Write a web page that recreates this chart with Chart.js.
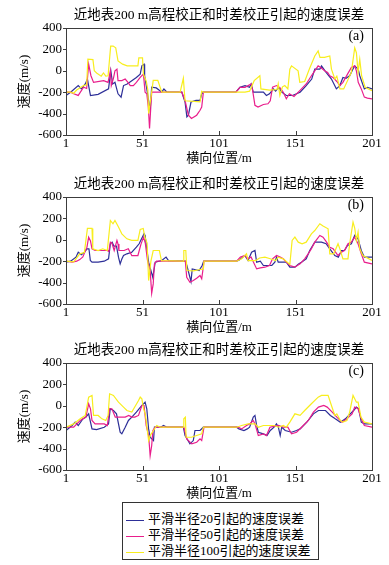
<!DOCTYPE html>
<html>
<head>
<meta charset="utf-8">
<script src="https://cdn.jsdelivr.net/npm/chart.js@4.4.1/dist/chart.umd.min.js"></script>
<style>
html, body { margin: 0; padding: 0; background: #fff; }
#wrap { position: relative; width: 389px; height: 565px; overflow: hidden; background: #fff; }
#wrap canvas { position: absolute; left: 0; }
#legend { position: absolute; left: 122px; top: 502px; width: 195px; height: 56px; border: 1px solid #333;
          font: 13px "Liberation Serif", "Noto Sans CJK SC", serif; color: #000; background: #fff; }
#legend .row { position: absolute; left: 3px; height: 16px; line-height: 16px; white-space: nowrap; }
#legend .swatch { display: inline-block; width: 18px; height: 0; border-top: 1.5px solid; vertical-align: middle; margin-right: 4px; }
</style>
</head>
<body>
<div id="wrap">
  <canvas id="panelA" width="389" height="168" style="top:0px"></canvas>
  <canvas id="panelB" width="389" height="168" style="top:169px"></canvas>
  <canvas id="panelC" width="389" height="168" style="top:335px"></canvas>
  <div id="legend"></div>
</div>
<script>
(function () {

// -------------------------------------------------------------------------------------------------------
// data: [lateral position, velocity error]

var xTicks = [1, 51, 101, 151, 201];
var yTicks = [-600, -400, -200, 0, 200, 400];
var panelTags = ['(a)', '(b)', '(c)'];
var titleText = '近地表200 m高程校正和时差校正引起的速度误差';
var xTitle = '横向位置/m';
var yTitle = '速度(m/s)';
var seriesNames = ['平滑半径20引起的速度误差', '平滑半径50引起的速度误差', '平滑半径100引起的速度误差'];
var seriesColors = ['#2d2f98', '#e91e8c', '#f8ee1e'];

var a_r20 = [[1,-231],[4,-200],[9,-138],[11,-169],[13.6,-123],[15,-77],[17,-231],[22,-220],[28.8,-169],[30.3,0],[31.5,-123],
  [33,-108],[35,-215],[37,-246],[38.6,-138],[41,-123],[44,-92],[47,-62],[49.5,-31],[50.6,46],[52,62],[52.4,-46],[53.8,-169],
  [56,-369],[57,-154],[60,-160],[63.6,-200],[65,-170],[67,-200],[76.7,-200],[78.8,-292],[80,-430],[81,-415],[82.7,-292],
  [86,-277],[88.6,-277],[89.7,-215],[90.8,-200],[112,-200],[114.7,-154],[118,-138],[121,-154],[122,-123],[123.4,-200],
  [130,-200],[132,-231],[134,-215],[136.6,-169],[138,-190],[140,-154],[142,-200],[145,-231],[149,-231],[154,-200],[158,-138],
  [161.6,-77],[163.6,15],[166.9,15],[168,46],[171,-15],[174.5,-77],[177.7,-169],[180,-138],[182,-62],[184,-70],[186.4,-46],
  [188.5,15],[189.7,46],[192,15],[193,-46],[196,-169],[198,-154],[201,-169]];
var a_r50 = [[1,-200],[4,-200],[6,-215],[9,-230],[12.5,-154],[14.5,-165],[15.8,62],[17.3,-46],[19,-108],[25.6,-92],[28.5,-108],
  [30,0],[30.6,-138],[32,-70],[33,0],[34.3,15],[35,-92],[37.5,-92],[39.7,-77],[41.5,-108],[43,-138],[45,-138],[47,-108],
  [49.5,-62],[51.6,-31],[52.7,-200],[53.8,-215],[54.8,-338],[55.6,-538],[56.3,-369],[57,-200],[76.7,-200],[78.8,-277],
  [81,-415],[83,-446],[86.4,-415],[88.6,-369],[89.7,-338],[90.8,-200],[112,-200],[114.7,-154],[118,-154],[122,-123],
  [123,-185],[124.5,-323],[126.5,-338],[130,-315],[133,-308],[134.5,-280],[136,-154],[138.6,-138],[141,-160],[143,-200],
  [145,-262],[147,-215],[150,-240],[153.8,-185],[158,-123],[161.4,-46],[163.6,0],[165.8,46],[167.5,31],[170,0],[172,-15],
  [173.4,-46],[175.5,-62],[178,-100],[180,-138],[182,-108],[185,-31],[187.5,31],[189.7,46],[190.8,0],[192,-108],[194,-169],
  [196,-246],[198,-255],[201,-262]];
var a_r100 = [[1,-200],[4,-200],[6,-210],[8,-180],[12.5,-138],[14.5,-130],[15.3,108],[18.6,105],[19.5,0],[21,-20],[24,-50],
  [25.5,-20],[27,-50],[28.5,-46],[30.2,231],[31.8,231],[33.5,215],[35,92],[38,62],[41,46],[48,46],[48.6,120],[51,120],
  [51.6,-30],[53.5,-100],[54.5,-180],[55,-400],[56,-300],[57,-200],[58,-90],[61,-90],[63.6,-200],[75.6,-200],[77.7,-70],
  [78.8,-280],[88.6,-290],[89.7,-190],[90.8,-200],[118,-200],[121,-190],[124,-92],[127.7,-46],[128.4,-169],[134,-180],
  [139,-175],[139.7,-123],[140.8,-230],[142.5,-150],[144,-138],[146,-169],[147.3,15],[148.4,46],[152.7,0],[153.8,-108],
  [157,-100],[160,15],[163.6,138],[165.8,185],[167,126],[170,126],[173.4,138],[174.5,15],[176.7,-77],[178,-50],[180,-169],
  [182.5,-169],[187.5,-15],[189.7,215],[190.8,169],[191.9,-15],[193,108],[194.2,-46],[196.5,-154],[201,-185]];

var b_r20 = [[1,-209],[4,-200],[7.5,-162],[9,-116],[11,-140],[13,-116],[14.7,-84],[16,-84],[16.9,-194],[18,-209],[22,-209],
  [26,-200],[28.8,-178],[30,-37],[31.2,-22],[32.3,-60],[34,-60],[35.3,-162],[36.4,-225],[37.5,-180],[38.6,-147],[40.8,-131],
  [44,-116],[47,-69],[48.8,-37],[52,56],[52.7,40],[53.8,-84],[55,-209],[57.7,-350],[58.8,-256],[59.3,-209],[63.6,-194],
  [66.4,-162],[68,-194],[79,-200],[80,-240],[82.7,-390],[83.5,-272],[85.8,-280],[88,-287],[90,-240],[91,-200],[112.5,-200],
  [114,-190],[117.9,-147],[120,-194],[122.3,-116],[124.5,-100],[125.6,-209],[128,-200],[130,-240],[135.5,-240],[137.5,-209],
  [138.6,-162],[139.7,-209],[145,-209],[147.3,-256],[150.6,-256],[153,-225],[154.9,-209],[158,-178],[160.3,-100],[163.6,-22],
  [168,-22],[171,-37],[173.4,-84],[176.7,-147],[179,-162],[181,-100],[183,-100],[185,-53],[187.5,-37],[189.7,41],[191.9,10],
  [194,-100],[196,-162],[201,-162]];
var b_r50 = [[1,-200],[5,-209],[8,-200],[10,-185],[12,-160],[14.7,-69],[15.8,25],[17,-10],[18,-84],[20,-100],[28,-100],
  [29,-110],[30,-22],[31,-30],[32.5,-100],[34.3,-6],[35,-40],[35.6,-100],[39,-100],[41.7,-84],[44,-147],[48,-147],[50,-40],
  [51.7,25],[52.8,-30],[54.3,-194],[56,-287],[57,-500],[58,-412],[58.8,-225],[60.2,-200],[79,-200],[79.9,-350],[82,-397],
  [84.2,-381],[86.4,-360],[88.6,-334],[89.7,-365],[90.5,-280],[91.2,-200],[112.5,-200],[115,-162],[118,-147],[119.5,-178],
  [122,-162],[125.6,-272],[128,-262],[131,-256],[134,-240],[136,-178],[138.6,-147],[141,-162],[143,-178],[145,-209],
  [147.3,-240],[150.6,-256],[154,-225],[157,-178],[159.3,-131],[161.4,-84],[163.6,-22],[166.9,41],[169,25],[171.3,-22],
  [173.4,-69],[175.6,-84],[178.8,-147],[181,-116],[183,-100],[185.3,-37],[187.5,-22],[189.7,25],[191.9,-37],[194,-131],
  [196,-209],[201,-225]];
var b_r100 = [[1,-200],[6,-206],[10,-131],[13,-120],[15,106],[18,106],[18.5,-84],[22,-100],[25,-84],[28,-100],[30,181],
  [31.7,150],[33,181],[35.3,119],[37.5,56],[40.8,9],[44,-6],[48,-6],[49.5,97],[51.5,106],[52.4,31],[54,-31],[55,-381],
  [56.5,-200],[58,-100],[62,-100],[63.4,-194],[77.7,-200],[78,-100],[79.3,-100],[80,-287],[84.3,-290],[88,-280],[90.8,-272],
  [91.2,-200],[112.5,-200],[115.8,-178],[119,-131],[120,-194],[125,-194],[127.5,-170],[131,-162],[134,-175],[138,-194],
  [139.7,-162],[143,-178],[147.3,-230],[148.8,-6],[150.6,25],[152.8,-22],[155.3,-37],[158,-22],[161.4,56],[163.6,87],
  [166.9,150],[169,128],[172.3,103],[173.4,-131],[176,-131],[178.8,-37],[180,-85],[182,-178],[185.3,-178],[186.4,-37],
  [188.6,166],[189.7,110],[190.8,-6],[191.9,72],[193,-84],[195,-147],[201,-194]];

var c_r20 = [[1,-231],[5,-184],[7,-153],[9,-184],[12,-122],[14,-106],[15.8,-75],[18,-216],[21,-222],[26,-200],[28.8,-169],
  [29.9,-28],[32,-44],[34,-75],[36.4,-247],[37.5,-262],[39.7,-200],[41.8,-137],[44,-106],[47,-59],[50.6,3],[52.7,34],
  [53.8,-28],[55,-216],[56,-294],[58.2,-325],[58.8,-200],[63,-200],[64.7,-184],[67,-200],[77.7,-200],[78.8,-278],[82,-356],
  [84.2,-325],[85.3,-231],[88.6,-231],[90.8,-200],[112.5,-200],[114,-216],[117.3,-231],[119.5,-216],[121,-200],[123.4,-106],
  [124.5,-90],[125.6,-184],[126.7,-247],[130,-262],[132.4,-278],[134.5,-231],[137,-200],[138.6,-169],[139.8,-200],[141,-278],
  [142,-200],[144.3,-231],[148.4,-247],[151.7,-231],[154,-216],[158.4,-153],[162.7,-75],[166,-44],[170.6,-44],[173.8,-90],
  [177,-122],[180.3,-153],[183.6,-122],[185.8,-90],[189,-44],[190.8,-12],[192.3,-28],[194,-153],[196,-169],[201,-169]];
var c_r50 = [[1,-200],[6,-200],[10.3,-137],[14,-106],[15.8,19],[17,-28],[18,-137],[20,-169],[26,-169],[28,-184],[29.5,-28],
  [31,-28],[33.2,-106],[39.7,-106],[42,-90],[44,-106],[46,-106],[48.4,-90],[50.6,3],[52,3],[53.4,-184],[55,-278],[56,-466],
  [57,-372],[57.8,-231],[59.3,-200],[78,-200],[79.9,-309],[83.2,-356],[86.4,-341],[88.6,-309],[89.7,-325],[91.2,-200],
  [113.6,-200],[115.8,-216],[119,-184],[121,-169],[123.4,-137],[124.5,-169],[126.7,-278],[130,-262],[132,-278],[134.3,-200],
  [140,-184],[143,-200],[146,-200],[148.4,-262],[151.7,-247],[155,-200],[159.4,-137],[162.7,-59],[166,-12],[169.5,3],
  [171.7,-12],[175,-59],[178,-106],[181.4,-153],[184.6,-122],[188,-75],[189.7,-12],[191.9,-28],[194,-122],[196,-184],
  [201,-200]];
var c_r100 = [[1,-200],[6,-169],[10.3,-122],[13.6,-90],[15.8,81],[18,97],[19,-90],[22,-90],[24.5,-122],[27,-137],[28.5,-90],
  [29.5,112],[32,97],[35.3,34],[38.6,-12],[40.8,-44],[44,-59],[48.4,50],[49.5,81],[50.6,65],[51.7,-28],[52.8,-75],[55,-325],
  [56,-278],[58.2,-231],[60.3,-184],[62.5,-200],[77.7,-200],[78,-122],[79,-106],[79.5,-294],[83,-294],[86.4,-278],
  [89.7,-262],[90.8,-200],[112.5,-200],[115.8,-184],[120,-169],[124.5,-169],[126.7,-200],[130,-184],[137,-184],[140,-200],
  [143,-184],[145,-200],[147.3,-153],[150.6,-75],[154,-90],[157,-44],[161.4,19],[165.8,81],[168,97],[172.3,97],[174.5,3],
  [176.7,-90],[178,-75],[180.3,-137],[182,-153],[184.6,-137],[186.4,-59],[188.6,97],[189.7,65],[190.8,34],[191.9,34],
  [193.8,-106],[196,-153],[201,-169]];

// -------------------------------------------------------------------------------------------------------

var FONT = '"Liberation Serif", "Noto Sans CJK SC", serif';

// box round the plot, small ticks and the (a)/(b)/(c) tag
var framePlugin = {
    id: 'frame',
    afterDatasetsDraw: function (chart, args, opts) {
        var ctx = chart.ctx, a = chart.chartArea;
        var xs = chart.scales.x, ys = chart.scales.y;
        ctx.save();
        ctx.strokeStyle = '#3c3c3c';
        ctx.lineWidth = 1;
        ctx.strokeRect(Math.round(a.left) + 0.5, Math.round(a.top) + 0.5,
                       Math.round(a.right - a.left), Math.round(a.bottom - a.top));
        ctx.beginPath();
        xTicks.forEach(function (v) {
            var px = Math.round(xs.getPixelForValue(v)) + 0.5;
            ctx.moveTo(px, a.bottom); ctx.lineTo(px, a.bottom - 4);
        });
        yTicks.forEach(function (v) {
            var py = Math.round(ys.getPixelForValue(v)) + 0.5;
            ctx.moveTo(a.left - 3, py); ctx.lineTo(a.left, py);
        });
        ctx.stroke();
        ctx.fillStyle = '#000';
        ctx.font = '14px ' + FONT;
        ctx.textAlign = 'right';
        ctx.textBaseline = 'middle';
        ctx.fillText(opts.tag, a.right - 8, a.top + 8);
        ctx.restore();
    }
};

window.error_panel = function (canvasId, tag, r20, r50, r100) {
    try {
        var canvas = document.getElementById(canvasId);
        if (!canvas) return;
        var ctx = canvas.getContext("2d");
        var sets = [r20, r50, r100];

        return new Chart(ctx, {
            type: 'line',
            data: {
                datasets: sets.map(function (d, i) {
                    return {
                        label: seriesNames[i],
                        data: d,
                        borderColor: seriesColors[i],
                        borderWidth: 1.2,
                        pointRadius: 0,
                        tension: 0,
                        fill: false,
                        order: 2 - i
                    };
                })
            },
            options: {
                responsive: false,
                animation: false,
                events: [],
                layout: { padding: { left: 0, right: 17, top: 0, bottom: 0 } },
                plugins: {
                    legend: { display: false },
                    tooltip: { enabled: false },
                    title: {
                        display: true, text: titleText, fullSize: false, color: '#000',
                        font: { family: FONT, size: 13.5, weight: 'normal', lineHeight: 1.2 },
                        padding: { top: 7, bottom: 4.8 }
                    },
                    frame: { tag: tag }
                },
                scales: {
                    x: {
                        type: 'linear', min: 1, max: 201,
                        afterBuildTicks: function (s) { s.ticks = xTicks.map(function (v) { return { value: v }; }); },
                        afterFit: function (s) { s.height = 33; s.paddingLeft = 0; s.paddingRight = 0; },
                        grid: { display: false, drawTicks: false },
                        border: { display: false },
                        ticks: { color: '#000', font: { family: FONT, size: 13 }, maxRotation: 0, autoSkip: false, padding: 1 },
                        title: { display: true, text: xTitle, color: '#000', font: { family: FONT, size: 13 }, padding: { top: 0, bottom: 2 } }
                    },
                    y: {
                        min: -600, max: 400,
                        afterBuildTicks: function (s) { s.ticks = yTicks.map(function (v) { return { value: v }; }); },
                        afterFit: function (s) { s.width = 66; s.paddingTop = 0; s.paddingBottom = 0; },
                        grid: { display: false, drawTicks: false },
                        border: { display: false },
                        ticks: { color: '#000', font: { family: FONT, size: 13 }, padding: 4 },
                        title: { display: true, text: yTitle, color: '#000', font: { family: FONT, size: 13 }, padding: { top: 17, bottom: 0 } }
                    }
                }
            },
            plugins: [framePlugin]
        });
    } catch (e) { console.log(e); }
};

window.error_panel('panelA', panelTags[0], a_r20, a_r50, a_r100);
window.error_panel('panelB', panelTags[1], b_r20, b_r50, b_r100);
window.error_panel('panelC', panelTags[2], c_r20, c_r50, c_r100);

// legend under the last panel
var legend = document.getElementById('legend');
seriesNames.forEach(function (name, i) {
    var row = document.createElement('div');
    row.className = 'row';
    row.style.top = (8 + i * 16) + 'px';
    var sw = document.createElement('span');
    sw.className = 'swatch';
    sw.style.borderTopColor = seriesColors[i];
    row.appendChild(sw);
    row.appendChild(document.createTextNode(name));
    legend.appendChild(row);
});

// -------------------------------------------------------------------------------------------------------

})();
</script>
</body>
</html>
